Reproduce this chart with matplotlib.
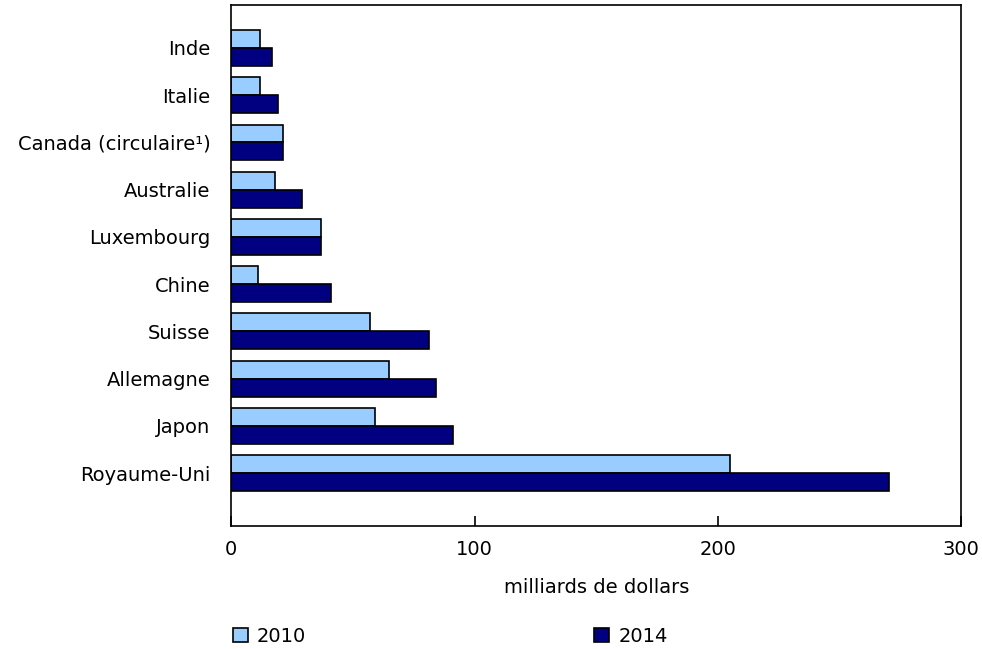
import matplotlib.pyplot as plt
import numpy as np

categories = ['Royaume-Uni', 'Japon', 'Allemagne', 'Suisse', 'Chine',
              'Luxembourg', 'Australie', 'Canada (circulaire¹)', 'Italie', 'Inde']
values_2010 = [205.1, 58.9, 64.9, 57.0, 10.9, 36.8, 17.9, 21.1, 12.0, 12.0]
values_2014 = [270.3, 91.0, 84.1, 81.1, 40.9, 36.8, 29.0, 21.1, 19.1, 16.9]

light = '#99CCFF'
dark = '#000080'

plt.rcParams['font.family'] = ['DejaVu Sans']
plt.rcParams['font.size'] = 14

fig = plt.figure(figsize=(9.82, 6.49), dpi=100)
ax = fig.add_axes([0.2355, 0.1895, 0.7435, 0.8028])

y = np.arange(len(categories))
h = 0.38
ax.barh(y + h / 2, values_2010, height=h, color=light, edgecolor='black',
        linewidth=1.2, label='2010')
ax.barh(y - h / 2, values_2014, height=h, color=dark, edgecolor='black',
        linewidth=1.2, label='2014')

ax.set_xlim(0, 300)
ax.set_ylim(-1.12, 9.91)
ax.set_xticks([0, 100, 200, 300])
ax.set_yticks(y)
ax.set_yticklabels(categories)
ax.tick_params(axis='x', direction='in', length=7, width=1.2, pad=10)
ax.tick_params(axis='y', length=0, pad=15)
for s in ax.spines.values():
    s.set_linewidth(1.2)

ax.set_xlabel('milliards de dollars', labelpad=14)

fig.legend(loc='lower left', bbox_to_anchor=(0.219, -0.022), ncol=2,
           frameon=False, handlelength=0.8, handleheight=0.8,
           handletextpad=0.45, columnspacing=14.8)

fig.savefig('out.png', dpi=100)
